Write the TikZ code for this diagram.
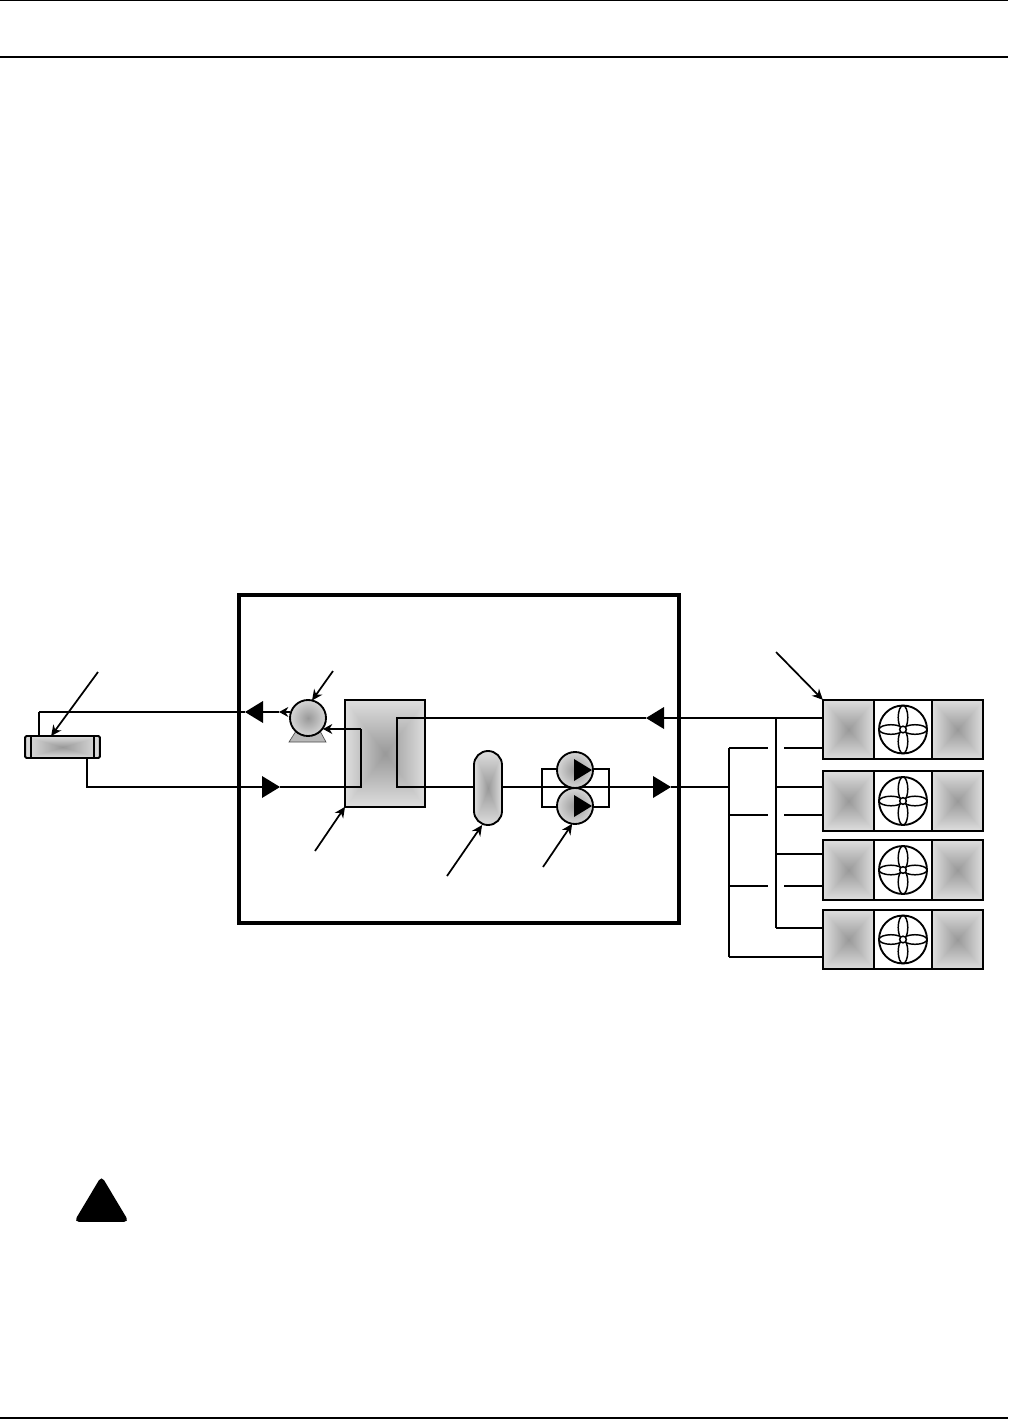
\documentclass[tikz,border=0pt]{standalone}
\usepackage{tikz}
\usetikzlibrary{arrows.meta,positioning,calc,shapes.geometric}
\definecolor{shadeedge}{gray}{0.84}
\definecolor{shademid}{gray}{0.6}
% grey that gets darker towards the middle of a box
\pgfdeclarefunctionalshading{pyramid}{\pgfpoint{-50bp}{-50bp}}{\pgfpoint{50bp}{50bp}}{}{
 abs exch abs 2 copy gt {pop} {exch pop} ifelse 25 div 0.27 mul 0.6 add dup dup
}
\begin{document}
\begin{tikzpicture}[
 x=0.75pt,y=-0.75pt,
 pipe/.style={line width=1.4pt},
 wallbox/.style={draw,line width=2.7pt,fill=none,outer sep=0pt,inner sep=0pt},
 unit/.style={draw,line width=1.4pt,outer sep=0pt,inner sep=0pt,shading=pyramid},
 fanbox/.style={draw,line width=1.4pt,outer sep=0pt,inner sep=0pt,fill=white},
 ballshade/.style={circle,draw,line width=1.4pt,outer sep=0pt,inner sep=0pt,shading=radial,inner color=shademid,outer color=shadeedge},
 flowhead/.style={isosceles triangle,isosceles triangle stretches,fill=black,inner sep=0pt,outer sep=0pt,minimum height=13.5pt,minimum width=16.5pt},
 leader/.style={-{Stealth[length=8pt,width=7.5pt]},line width=1.3pt},
 smalltip/.style={-{Stealth[length=7pt,width=7.5pt]},pipe}
]
\useasboundingbox (0,0) rectangle (1008,1420);
% page rules
\coordinate (ruleaL) at (0,0.7); \coordinate (ruleaR) at (1008,0.7);
\coordinate (rulebL) at (0,57); \coordinate (rulebR) at (1008,57);
\coordinate (rulecL) at (0,1418); \coordinate (rulecR) at (1008,1418);
\draw[line width=1.1pt] (ruleaL)--(ruleaR); \draw[line width=1.1pt] (rulebL)--(rulebR); \draw[line width=1.1pt] (rulecL)--(rulecR);
% outdoor room
\node[wallbox,minimum width=330pt,minimum height=246pt] (room) at (459,759) {};
% junction points of the pipes
\coordinate (coolerout) at (39,712);
\coordinate (coolerin) at (87,787);
\coordinate (comptip) at (279,712);
\coordinate (compfrom) at (290,712);
\coordinate (hxloopL) at (361,787);
\coordinate (hxloopLtop) at (361,729);
\coordinate (comptipb) at (323,729);
\coordinate (hxloopR) at (397,787);
\coordinate (hxloopRtop) at (397,718);
\coordinate (pumploopL) at (542,787);
\coordinate (pumploopR) at (609,787);
\coordinate (liqjoin) at (729,787);
\coordinate (liqtop) at (729,748);
\coordinate (liqbot) at (729,957);
\coordinate (suctop) at (776,718);
\coordinate (sucbot) at (776,928);
% flow triangles on the pipes
\node[flowhead,shape border rotate=180,anchor=apex] (flowa) at (245,712) {};
\node[flowhead,anchor=apex] (flowb) at (280,787) {};
\node[flowhead,shape border rotate=180,anchor=apex] (flowc) at (646,718) {};
\node[flowhead,anchor=apex] (flowd) at (671,787) {};
% pipes under the equipment
\draw[pipe] (pumploopL)--(pumploopR);
\draw[pipe] (pumploopL)|-(575,769)--(pumploopR|-575,769)--(pumploopR);
\draw[pipe] (pumploopL)|-(575,807)--(pumploopR|-575,807)--(pumploopR);
% equipment
\node[unit,minimum width=60pt,minimum height=80pt] (hx) at (385,753.5) {};
\node[unit,rounded corners=10.5pt,minimum width=21pt,minimum height=55.5pt] (accum) at (488,788) {};
\node[unit,rounded corners=1pt,minimum width=56pt,minimum height=16.5pt] (cooler) at (62.5,747) {};
\draw[pipe] (cooler.north west)++(4.5pt,0)--++(0,-16.5pt);
\draw[pipe] (cooler.north east)++(-4.5pt,0)--++(0,-16.5pt);
\fill[gray!55,draw=black!70,line width=0.5pt] (296,731)--(320,731)--(326,742)--(289,742)--cycle;
\node[ballshade,minimum size=27pt] (comp) at (308,718) {};
\node[ballshade,minimum size=27pt] (pumpa) at (575,770) {};
\node[ballshade,minimum size=27pt] (pumpb) at (575,806) {};
\node[flowhead,anchor=apex] (pumpaflow) at (592,770) {};
\node[flowhead,anchor=apex] (pumpbflow) at (592,806) {};
% pipes over the equipment
\draw[pipe] (coolerout)--(flowa);
\draw[pipe] (cooler.north west-|coolerout)--(coolerout);
\draw[smalltip] (compfrom)--(comptip);
\draw[pipe] (comptip)--(flowa);
\draw[pipe] (cooler.south east-|coolerin)--(coolerin)--(flowb)--(hxloopL)--(hxloopLtop);
\draw[smalltip] (hxloopLtop)--(comptipb);
\draw[pipe] (suctop)--(flowc)--(hxloopRtop)--(hxloopR)--(hxloopR-|accum.west);
\draw[pipe] (pumploopL-|accum.east)--(pumploopL);
\draw[pipe] (pumploopR)--(flowd)--(liqjoin);
\draw[pipe] (liqtop)--(liqbot);
\draw[pipe] (suctop)--(sucbot);
% condenser units
\foreach \u/\yc/\ys/\yl in {1/729.5/718/748,2/801/787/815,3/870/854/886,4/939.5/928/957}{
 \node[unit,minimum width=38.5pt,minimum height=44.5pt] (left\u) at (848.5,\yc) {};
 \node[fanbox,minimum width=43.5pt,minimum height=44.5pt] (mid\u) at (903,\yc) {};
 \node[unit,minimum width=38.5pt,minimum height=44.5pt] (right\u) at (957.5,\yc) {};
 \node[circle,draw,line width=1.4pt,minimum size=36pt,outer sep=0pt,inner sep=0pt] (fan\u) at (mid\u) {};
 \draw[line width=1.1pt] ([yshift=-9pt]fan\u) ellipse (3.6pt and 9pt);
 \draw[line width=1.1pt] ([yshift=9pt]fan\u) ellipse (3.6pt and 9pt);
 \draw[line width=1.1pt] ([xshift=-9pt]fan\u) ellipse (9pt and 3.6pt);
 \draw[line width=1.1pt] ([xshift=9pt]fan\u) ellipse (9pt and 3.6pt);
 \node[circle,draw,line width=1.1pt,fill=white,minimum size=5pt,inner sep=0pt,outer sep=0pt] (hub\u) at (mid\u) {};
 \coordinate (sucj\u) at (776,\ys);
 \coordinate (liqj\u) at (729,\yl);
 \coordinate (gapa\u) at (768,\yl);
 \coordinate (gapb\u) at (784,\yl);
 \draw[pipe] (sucj\u)--(sucj\u-|left\u.west);
 \draw[pipe] (gapb\u)--(gapb\u-|left\u.west);
}
\draw[pipe] (liqj1)--(gapa1); \draw[pipe] (liqj2)--(gapa2); \draw[pipe] (liqj3)--(gapa3);
\draw[pipe] (liqj4)--(gapb4);
\draw[line width=2pt] (sucj4)--(sucj4-|left4.west);
% label leaders
\coordinate (ldcooler) at (98,672);
\coordinate (ldcomp) at (333,671);
\coordinate (ldhx) at (315,851);
\coordinate (ldaccum) at (447,876);
\coordinate (ldpump) at (543,867);
\coordinate (ldunit) at (776,652);
\draw[leader] (ldcooler)--(cooler.136);
\draw[leader] (ldcomp)--(comp.77);
\draw[leader] (ldhx)--(hx.south west);
\draw[leader] (ldaccum)--(accum.-99);
\draw[leader] (ldpump)--(pumpb.-99);
\draw[leader] (ldunit)--(left1.north west);
% warning sign
\node[isosceles triangle,isosceles triangle stretches,shape border rotate=90,fill=black,draw=black,line width=1pt,rounded corners=3pt,inner sep=0pt,minimum width=39.5pt,minimum height=33pt,anchor=apex] (warnsign) at (101.5,1175.5) {};
\end{tikzpicture}
\end{document}
